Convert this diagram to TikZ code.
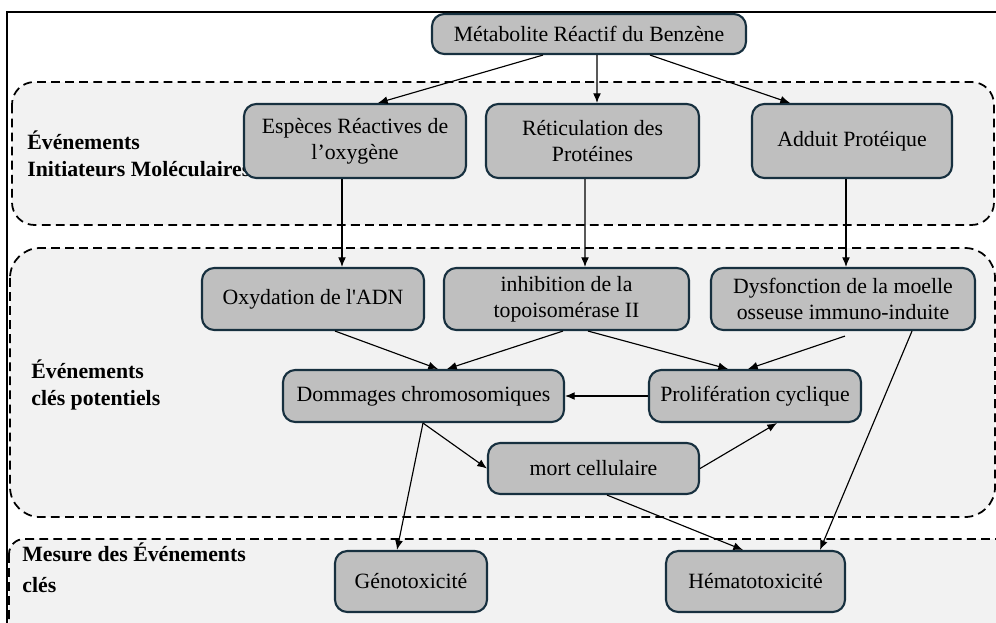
\documentclass[tikz,border=0pt]{standalone}
\usepackage{fontspec}
\setmainfont{Liberation Serif}
\usepackage{tikz}
\usetikzlibrary{arrows.meta}
\usetikzlibrary{calc}
\definecolor{zonefill}{HTML}{F2F2F2}
\definecolor{boxfill}{HTML}{BFBFBF}
\definecolor{boxline}{HTML}{17303F}
\tikzstyle{zone}=[draw=black, fill=zonefill, line width=1pt, dash pattern=on 5pt off 3pt]
\tikzstyle{event}=[draw=boxline, fill=boxfill, line width=1.2pt, rounded corners=7pt, align=center, font=\fontsize{12.4}{15}\selectfont, inner sep=2pt]
\tikzstyle{lab}=[anchor=west, align=left, font=\fontsize{12.4}{15.5}\selectfont\bfseries, inner sep=0pt]
\tikzstyle{->>}=[-{Latex[length=5.5pt,width=4.5pt]}, line width=0.65pt]

\begin{document}
\begin{tikzpicture}[x=0.02cm, y=-0.02cm]
\useasboundingbox (0,0) rectangle (996,622);
\clip (0,0) rectangle (996,622);
\draw[line width=0.9pt] (7,12) rectangle (1010,640);
% zones
\draw[zone, rounded corners=0.45cm] (12,82) rectangle (994,225);
\draw[zone, rounded corners=0.6cm] (10,248) rectangle (995,517);
\draw[zone, rounded corners=0.3cm] (9,539) rectangle (1010,650);
\node[lab] (zone1) at (27,154) {Événements\\Initiateurs Moléculaires};
\node[lab] (zone2) at (31,385) {Événements\\clés potentiels};
\node[lab, font=\fontsize{12.4}{17.5}\selectfont\bfseries] (zone3) at (22,568) {Mesure des Événements\\clés};
% boxes
\foreach \n/\x/\y/\w/\h/\t in {met/589/34/314/40/{Métabolite Réactif du Benzène},
 ros/355/141/222/74/{Espèces Réactives de\\l’oxygène},
 retic/592.5/141/213/74/{Réticulation des\\Protéines},
 adduit/852/141/200/74/{Adduit Protéique},
 oxy/313/299/222/62/{Oxydation de l\textquotesingle ADN},
 topo/566.5/299/245/62/{inhibition de la\\topoisomérase II},
 moelle/843/299/264/62/{Dysfonction de la moelle\\osseuse immuno-induite},
 chromo/423.5/396/281/52/{Dommages chromosomiques},
 prolif/755/396/212/52/{Prolifération cyclique},
 mort/593.5/468.5/211/51/{mort cellulaire},
 geno/411/581.5/152/61/{Génotoxicité},
 hemato/755.5/581.5/179/61/{Hématotoxicité}} {
 \node[event, minimum width=\w*0.02cm, minimum height=\h*0.02cm] (\n) at (\x,\y) {\t};
}
% links
\draw[->>] ($(met.south)+(-46,0)$) -- ($(ros.north)+(23,0)$);
\draw[->>] ($(met.south)+(8,0)$) -- ($(retic.north)+(4.5,0)$);
\draw[->>] ($(met.south)+(61,0)$) -- ($(adduit.north)+(-62,0)$);
\draw[->>] ($(ros.south)+(-13,0)$) -- ($(oxy.north)+(29,0)$);
\draw[->>] ($(retic.south)+(-7.5,0)$) -- ($(topo.north)+(18.5,0)$);
\draw[->>] ($(adduit.south)+(-6,0)$) -- ($(moelle.north)+(3,0)$);
\draw[->>] ($(oxy.south)+(22,0)$) -- ($(chromo.north)+(14.5,0)$);
\draw[->>] ($(topo.south)+(-3.5,0)$) -- ($(chromo.north)+(23.5,0)$);
\draw[->>] ($(topo.south)+(21.5,0)$) -- ($(prolif.north)+(-27,0)$);
\draw[->>] ($(moelle.south)+(2,5)$) -- ($(prolif.north)+(-7,0)$);
\draw[->>] ($(moelle.south)+(69,0)$) -- ($(hemato.north)+(64.5,0)$);
\draw[->>] (prolif.west) -- (chromo.east);
\draw[->>] ($(chromo.south)+(-0.5,0)$) -- (mort.west);
\draw[->>] ($(chromo.south)+(-0.5,0)$) -- ($(geno.north)+(-14,0)$);
\draw[->>] (mort.east) -- ($(prolif.south)+(22,0)$);
\draw[->>] ($(mort.south)+(13.5,0)$) -- ($(hemato.north)+(-12.5,0)$);
\end{tikzpicture}
\end{document}
